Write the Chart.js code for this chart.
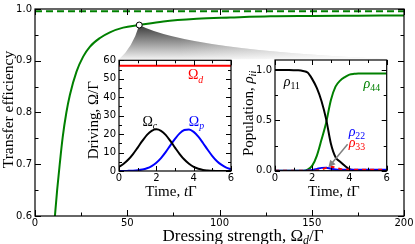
<!DOCTYPE html>
<html>
<head>
<meta charset="utf-8">
<script src="https://cdn.jsdelivr.net/npm/chart.js@4.4.0/dist/chart.umd.min.js"></script>
<style>
  html, body { margin: 0; padding: 0; background: #fff; }
  #wrap { position: relative; width: 415px; height: 244px; overflow: hidden; }
  #wrap canvas { position: absolute; }
</style>
</head>
<body>
<div id="wrap">
  <canvas id="main" width="415" height="244" style="left:0;top:0"></canvas>
  <canvas id="drive" width="150" height="150" style="left:86px;top:50px"></canvas>
  <canvas id="pop" width="156" height="150" style="left:236px;top:50px"></canvas>
</div>
<script>
// main panel: transfer efficiency vs dressing strength
var effX = [10, 10.8, 12, 13.4, 15, 17, 18.9, 22.5, 26.1, 29.7, 35.2, 40.6, 47.8, 56.5, 69.6, 87.7, 105.8, 127.6, 150, 175, 200];
var effY = [0.565, 0.6, 0.65, 0.7, 0.752, 0.8, 0.834, 0.879, 0.908, 0.927, 0.944, 0.955, 0.964, 0.969, 0.976, 0.981, 0.9835, 0.986, 0.9865, 0.987, 0.9875];
var idealX = [0, 200];
var idealY = [0.9955, 0.9955];
var markX = [56.5];
var markY = [0.969];
var mainXMajor = [0, 50, 100, 150, 200];
var mainXMinor = [25, 75, 125, 175];
var mainYMajor = [0.6, 0.7, 0.8, 0.9, 1.0];
var mainYMinor = [0.65, 0.75, 0.85, 0.95];

// left inset: driving fields
var tDrive = [0, 0.25, 0.5, 0.75, 1, 1.25, 1.5, 1.75, 2, 2.25, 2.5, 2.75, 3, 3.25, 3.5, 3.75, 4, 4.25, 4.5, 4.75, 5, 5.25, 5.5, 5.75, 6];
var omegaC = [2.2, 3.9, 6.2, 9.2, 12.7, 16.3, 19.6, 21.8, 22.6, 21.8, 19.6, 16.3, 12.7, 9.2, 6.2, 3.9, 2.2, 1.2, 0.6, 0.3, 0.1, 0.05, 0, 0, 0];
var omegaP = [0, 0, 0.07, 0.17, 0.37, 0.76, 1.49, 2.7, 4.5, 7.0, 10.2, 13.9, 17.4, 20.4, 22.2, 22.5, 21.2, 18.6, 15.2, 11.5, 8.1, 5.3, 3.3, 1.85, 1.0];
var tDress = [0, 6];
var omegaD = [57, 57];

// right inset: populations
var tPop = [0, 0.25, 0.5, 0.75, 1, 1.25, 1.5, 1.75, 2, 2.25, 2.5, 2.75, 3, 3.25, 3.5, 3.75, 4, 4.25, 4.5, 4.75, 5, 5.25, 5.5, 5.75, 6];
var rho11 = [1, 1, 1, 1, 0.999, 0.997, 0.99, 0.975, 0.91, 0.82, 0.69, 0.51, 0.27, 0.135, 0.09, 0.05, 0.015, 0.005, 0.002, 0, 0, 0, 0, 0, 0];
var rho44 = [0, 0, 0, 0, 0, 0, 0, 0.01, 0.05, 0.15, 0.31, 0.48, 0.70, 0.835, 0.895, 0.93, 0.955, 0.963, 0.966, 0.967, 0.967, 0.967, 0.967, 0.967, 0.967];
var rho22 = [0, 0, 0, 0, 0, 0, 0, 0.002, 0.008, 0.018, 0.028, 0.03, 0.02, 0.012, 0.01, 0.01, 0.01, 0.01, 0.01, 0.01, 0.01, 0.01, 0.01, 0.01, 0.01];
var rho33 = [0, 0, 0, 0, 0, 0, 0, 0, 0, 0.003, 0.012, 0.028, 0.04, 0.032, 0.018, 0.012, 0.01, 0.01, 0.01, 0.01, 0.01, 0.01, 0.01, 0.01, 0.01];

var insetXMajor = [0, 2, 4, 6];
var insetXMinor = [1, 3, 5];
var driveYMajor = [0, 10, 20, 30, 40, 50, 60];
var driveYMinor = [5, 15, 25, 35, 45, 55];
var popYMajor = [0, 0.5, 1.0];
var popYMinor = [0.25, 0.75];

var SERIF = '"Liberation Serif", "Times New Roman", serif';
var TICKFONT = { family: '"DejaVu Sans", sans-serif', size: 10 };

function pts(xs, ys) {
	return xs.map(function(v, i) { return { x: v, y: ys[i] }; });
}

// text with italic / subscript pieces, centred on (x, y)
function drawRich(ctx, parts, x, y, size, color, rotate) {
	function font(p) {
		return (p.i ? 'italic ' : '') + (p.sub ? size * 0.7 : size) + 'px ' + SERIF;
	}
	ctx.save();
	ctx.fillStyle = color;
	ctx.textAlign = 'left';
	ctx.textBaseline = 'alphabetic';
	var w = 0;
	parts.forEach(function(p) { ctx.font = font(p); w += ctx.measureText(p.t).width; });
	ctx.translate(x, y);
	if (rotate) ctx.rotate(-Math.PI / 2);
	var cx = -w / 2;
	parts.forEach(function(p) {
		ctx.font = font(p);
		ctx.fillText(p.t, cx, size * 0.33 + (p.sub ? size * 0.22 : 0));
		cx += ctx.measureText(p.t).width;
	});
	ctx.restore();
}

var whiteBg = {
	id: 'whiteBg',
	beforeDraw: function(chart) {
		var a = chart.chartArea;
		chart.ctx.save();
		chart.ctx.fillStyle = '#fff';
		chart.ctx.fillRect(a.left, a.top, a.right - a.left, a.bottom - a.top);
		chart.ctx.restore();
	}
};

// box with inward ticks on all four sides
var framePlugin = {
	id: 'frame',
	afterDatasetsDraw: function(chart, args, o) {
		var ctx = chart.ctx, a = chart.chartArea, sx = chart.scales.x, sy = chart.scales.y;
		ctx.save();
		ctx.strokeStyle = '#000';
		ctx.lineWidth = 1;
		ctx.beginPath();
		function xt(vals, len) {
			vals.forEach(function(v) {
				var p = Math.round(sx.getPixelForValue(v)) + 0.5;
				ctx.moveTo(p, a.bottom); ctx.lineTo(p, a.bottom - len);
				ctx.moveTo(p, a.top); ctx.lineTo(p, a.top + len);
			});
		}
		function yt(vals, len) {
			vals.forEach(function(v) {
				var p = Math.round(sy.getPixelForValue(v)) + 0.5;
				ctx.moveTo(a.left, p); ctx.lineTo(a.left + len, p);
				ctx.moveTo(a.right, p); ctx.lineTo(a.right - len, p);
			});
		}
		xt(o.xMajor, o.major); xt(o.xMinor, o.minor);
		yt(o.yMajor, o.major); yt(o.yMinor, o.minor);
		ctx.stroke();
		ctx.lineWidth = 1.2;
		ctx.strokeRect(a.left, a.top, a.right - a.left, a.bottom - a.top);
		ctx.restore();
	}
};

// axis titles and in-plot labels
var notesPlugin = {
	id: 'notes',
	afterDraw: function(chart, args, o) {
		var ctx = chart.ctx, a = chart.chartArea, sx = chart.scales.x, sy = chart.scales.y;
		var xt = o.xTitle, yt = o.yTitle;
		drawRich(ctx, xt.parts, (a.left + a.right) / 2 + xt.dx, a.bottom + xt.dy, xt.size, '#000', false);
		drawRich(ctx, yt.parts, a.left - yt.dx, (a.top + a.bottom) / 2 + yt.dy, yt.size, '#000', true);
		(o.labels || []).forEach(function(l) {
			drawRich(ctx, l.parts, sx.getPixelForValue(l.x), sy.getPixelForValue(l.y), 14, l.color, false);
		});
		if (o.arrow) {
			var r = o.arrow;
			var x0 = sx.getPixelForValue(r.from[0]), y0 = sy.getPixelForValue(r.from[1]);
			var x1 = sx.getPixelForValue(r.to[0]), y1 = sy.getPixelForValue(r.to[1]);
			var ang = Math.atan2(y1 - y0, x1 - x0);
			ctx.save();
			ctx.strokeStyle = ctx.fillStyle = '#808080';
			ctx.lineWidth = 1.5;
			ctx.beginPath();
			ctx.moveTo(x0, y0);
			ctx.lineTo(x1 - 5 * Math.cos(ang), y1 - 5 * Math.sin(ang));
			ctx.stroke();
			ctx.beginPath();
			ctx.moveTo(x1, y1);
			ctx.lineTo(x1 - 7 * Math.cos(ang) + 3.5 * Math.sin(ang), y1 - 7 * Math.sin(ang) - 3.5 * Math.cos(ang));
			ctx.lineTo(x1 - 7 * Math.cos(ang) - 3.5 * Math.sin(ang), y1 - 7 * Math.sin(ang) + 3.5 * Math.cos(ang));
			ctx.closePath();
			ctx.fill();
			ctx.restore();
		}
	}
};

function scaleOpts(min, max, major, fmt, size) {
	return {
		type: 'linear', min: min, max: max,
		grid: { display: false, drawTicks: false },
		border: { display: false },
		ticks: { font: TICKFONT, color: '#000', padding: size.pad, autoSkip: false, maxRotation: 0,
			callback: fmt },
		afterBuildTicks: function(s) { s.ticks = major.map(function(v) { return { value: v }; }); },
		afterFit: function(s) { if (size.w) s.width = size.w; if (size.h) s.height = size.h; }
	};
}

function lineSet(xs, ys, color, extra) {
	var d = {
		data: pts(xs, ys), borderColor: color, borderWidth: 2, pointRadius: 0,
		cubicInterpolationMode: 'monotone', fill: false
	};
	for (var k in extra) d[k] = extra[k];
	return d;
}

var baseOpts = {
	responsive: false, animation: false,
	plugins: { legend: { display: false }, tooltip: { enabled: false } }
};

var insets = {};

insets.drive = new Chart(document.getElementById('drive'), {
	type: 'line',
	data: { datasets: [
		lineSet(tDress, omegaD, '#ff0000', {}),
		lineSet(tDrive, omegaC, '#000000', {}),
		lineSet(tDrive, omegaP, '#0000ff', {})
	] },
	options: Object.assign({}, baseOpts, {
		layout: { padding: { left: 0, right: 5, top: 10.3, bottom: 0 } },
		scales: {
			x: scaleOpts(0, 6, insetXMajor, function(v) { return v; }, { h: 29, pad: 1.5 }),
			y: scaleOpts(0, 60, driveYMajor, function(v) { return v; }, { w: 33, pad: 3 })
		},
		plugins: Object.assign({}, baseOpts.plugins, {
			frame: { xMajor: insetXMajor, xMinor: insetXMinor, yMajor: driveYMajor, yMinor: driveYMinor, major: 5, minor: 3 },
			notes: {
				xTitle: { parts: [{ t: 'Time, ' }, { t: 't', i: true }, { t: 'Γ' }], dx: -4, dy: 20, size: 15 },
				yTitle: { parts: [{ t: 'Driving, Ω/Γ' }], dx: 25.5, dy: 4.5, size: 15 },
				labels: [
					{ x: 4.1, y: 52.1, color: '#ff0000', parts: [{ t: 'Ω' }, { t: 'd', i: true, sub: true }] },
					{ x: 1.65, y: 27.1, color: '#000000', parts: [{ t: 'Ω' }, { t: 'c', i: true, sub: true }] },
					{ x: 4.15, y: 27.1, color: '#0000ff', parts: [{ t: 'Ω' }, { t: 'p', i: true, sub: true }] }
				]
			}
		})
	}),
	plugins: [whiteBg, framePlugin, notesPlugin]
});

insets.pop = new Chart(document.getElementById('pop'), {
	type: 'line',
	data: { datasets: [
		lineSet(tPop, rho33, '#ff0000', { borderDash: [4, 4] }),
		lineSet(tPop, rho22, '#0000ff', {}),
		lineSet(tPop, rho11, '#000000', {}),
		lineSet(tPop, rho44, '#008000', {})
	] },
	options: Object.assign({}, baseOpts, {
		layout: { padding: { left: 0, right: 5.3, top: 10, bottom: 0 } },
		scales: {
			x: scaleOpts(0, 6, insetXMajor, function(v) { return v; }, { h: 29.3, pad: 1.5 }),
			y: scaleOpts(0, 1.1, popYMajor, function(v) { return v.toFixed(1); }, { w: 39, pad: 3 })
		},
		plugins: Object.assign({}, baseOpts.plugins, {
			frame: { xMajor: insetXMajor, xMinor: insetXMinor, yMajor: popYMajor, yMinor: popYMinor, major: 5, minor: 3 },
			notes: {
				xTitle: { parts: [{ t: 'Time, ' }, { t: 't', i: true }, { t: 'Γ' }], dx: 3, dy: 20, size: 15 },
				yTitle: { parts: [{ t: 'Population, ' }, { t: 'ρ', i: true }, { t: 'ii', i: true, sub: true }], dx: 27, dy: -2, size: 15 },
				labels: [
					{ x: 0.9, y: 0.884, color: '#000000', parts: [{ t: 'ρ', i: true }, { t: '11', sub: true }] },
					{ x: 5.2, y: 0.868, color: '#008000', parts: [{ t: 'ρ', i: true }, { t: '44', sub: true }] },
					{ x: 4.4, y: 0.394, color: '#0000ff', parts: [{ t: 'ρ', i: true }, { t: '22', sub: true }] },
					{ x: 4.4, y: 0.278, color: '#ff0000', parts: [{ t: 'ρ', i: true }, { t: '33', sub: true }] }
				],
				arrow: { from: [3.9, 0.262], to: [2.87, 0.034] }
			}
		})
	}),
	plugins: [whiteBg, framePlugin, notesPlugin]
});

// grey zoom fan from the marked point down to the two insets
var fanPlugin = {
	id: 'fan',
	beforeDatasetsDraw: function(chart) {
		var ctx = chart.ctx;
		var px = chart.scales.x.getPixelForValue(markX[0]), py = chart.scales.y.getPixelForValue(markY[0]);
		var d = insets.drive, p = insets.pop;
		var ax = d.canvas.offsetLeft + d.chartArea.left, ay = d.canvas.offsetTop + d.chartArea.top - 1;
		var bx = p.canvas.offsetLeft + p.chartArea.right, by = p.canvas.offsetTop + p.chartArea.top - 1;
		ctx.save();
		ctx.beginPath();
		ctx.moveTo(px, py);
		ctx.quadraticCurveTo(px - 7, py + 23, ax, ay);
		ctx.lineTo(bx, by);
		ctx.quadraticCurveTo(px + 49, py + 25, px, py);
		ctx.closePath();
		var g = ctx.createLinearGradient(0, py, 0, ay);
		g.addColorStop(0, '#383838');
		g.addColorStop(1, '#f2f2f2');
		ctx.fillStyle = g;
		ctx.fill();
		var h = ctx.createLinearGradient(px + 40, 0, bx, 0);
		h.addColorStop(0, 'rgba(255,255,255,0)');
		h.addColorStop(1, 'rgba(255,255,255,0.9)');
		ctx.fillStyle = h;
		ctx.fill();
		ctx.restore();
	}
};

new Chart(document.getElementById('main'), {
	type: 'line',
	data: { datasets: [
		{ data: pts(markX, markY), showLine: false, pointRadius: 3, pointBackgroundColor: '#fff',
			pointBorderColor: '#000', pointBorderWidth: 1, order: 0 },
		lineSet(effX, effY, '#008000', { order: 1 }),
		lineSet(idealX, idealY, '#008000', { borderDash: [7, 4], order: 2 })
	] },
	options: Object.assign({}, baseOpts, {
		layout: { padding: { left: 0, right: 11, top: 6.7, bottom: 0 } },
		scales: {
			x: scaleOpts(0, 200, mainXMajor, function(v) { return v; }, { h: 28, pad: 1 }),
			y: scaleOpts(0.6, 1.0, mainYMajor, function(v) { return v.toFixed(1); }, { w: 35, pad: 3 })
		},
		plugins: Object.assign({}, baseOpts.plugins, {
			frame: { xMajor: mainXMajor, xMinor: mainXMinor, yMajor: mainYMajor, yMinor: mainYMinor, major: 6, minor: 3.5 },
			notes: {
				xTitle: { parts: [{ t: 'Dressing strength, Ω' }, { t: 'd', i: true, sub: true }, { t: '/Γ' }], dx: 23.5, dy: 19, size: 17 },
				yTitle: { parts: [{ t: 'Transfer efficiency' }], dx: 27.5, dy: -3, size: 15.5 }
			}
		})
	}),
	plugins: [fanPlugin, framePlugin, notesPlugin]
});
</script>
</body>
</html>
